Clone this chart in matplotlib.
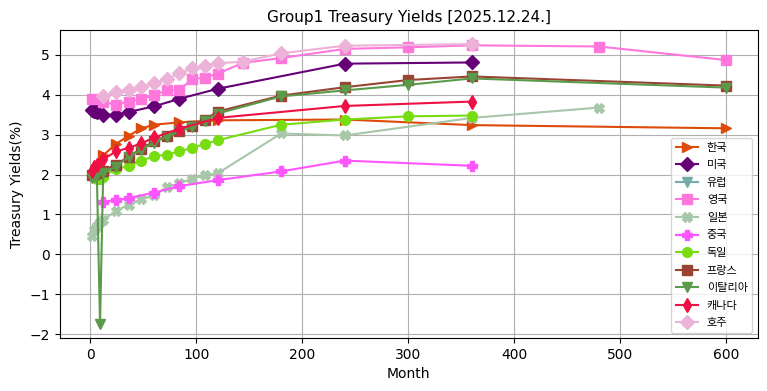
import matplotlib
matplotlib.use("agg")
import matplotlib.pyplot as plt

plt.rcParams['font.family'] = ['DejaVu Sans', 'Noto Sans CJK KR']

# maturities in months and yields (%) per country
KR_M = [12, 24, 36, 48, 60, 84, 120, 240, 360, 600]
KR_Y = [2.48, 2.77, 2.97, 3.16, 3.25, 3.31, 3.36, 3.38, 3.24, 3.16]

US_M = [1, 2, 3, 4, 6, 12, 24, 36, 60, 84, 120, 240, 360]
US_Y = [3.63, 3.62, 3.6, 3.6, 3.57, 3.5, 3.5, 3.57, 3.71, 3.9, 4.15, 4.78, 4.81]

EU_M = []
EU_Y = []

UK_M = [1, 12, 24, 36, 48, 60, 72, 84, 96, 108, 120, 144, 180, 240, 300, 360, 480, 600]
UK_Y = [3.89, 3.82, 3.75, 3.83, 3.89, 3.99, 4.11, 4.13, 4.39, 4.43, 4.53, 4.8, 4.92, 5.15, 5.19, 5.24, 5.21, 4.87]

JP_M = [1, 3, 6, 9, 12, 24, 36, 48, 60, 72, 84, 96, 108, 120, 180, 240, 360, 480]
JP_Y = [0.47, 0.62, 0.71, 0.8, 0.87, 1.08, 1.25, 1.38, 1.48, 1.68, 1.78, 1.9, 1.98, 2.03, 3.03, 2.98, 3.42, 3.68]

CN_M = [12, 24, 36, 60, 84, 120, 180, 240, 360]
CN_Y = [1.32, 1.36, 1.41, 1.55, 1.71, 1.86, 2.08, 2.35, 2.22]

DE_M = [3, 6, 9, 12, 24, 36, 48, 60, 72, 84, 96, 108, 120, 180, 240, 300, 360]
DE_Y = [1.95, 1.9, 1.88, 1.95, 2.14, 2.21, 2.35, 2.46, 2.5, 2.58, 2.67, 2.77, 2.86, 3.25, 3.38, 3.46, 3.48]

FR_M = [1, 3, 6, 12, 24, 36, 48, 60, 72, 84, 96, 108, 120, 180, 240, 300, 360, 600]
FR_Y = [2.0, 2.02, 2.05, 2.1, 2.25, 2.45, 2.65, 2.83, 2.97, 3.1, 3.22, 3.38, 3.58, 3.98, 4.19, 4.37, 4.46, 4.23]

IT_M = [1, 3, 6, 9, 12, 24, 36, 48, 60, 72, 84, 96, 108, 120, 180, 240, 300, 360, 600]
IT_Y = [1.92, 1.95, 2.0, -1.75, 2.03, 2.2, 2.45, 2.62, 2.8, 2.95, 3.08, 3.2, 3.35, 3.53, 3.96, 4.11, 4.25, 4.41, 4.18]

CA_M = [1, 3, 6, 12, 24, 36, 48, 60, 84, 120, 240, 360]
CA_Y = [2.1, 2.2, 2.25, 2.38, 2.58, 2.67, 2.78, 2.93, 3.15, 3.42, 3.72, 3.83]

AU_M = [12, 24, 36, 48, 60, 72, 84, 96, 108, 120, 144, 180, 240, 360]
AU_Y = [3.96, 4.07, 4.13, 4.19, 4.29, 4.39, 4.54, 4.67, 4.73, 4.79, 4.83, 5.04, 5.23, 5.27]

SERIES = [
    ("한국", KR_M, KR_Y, "#dd4b0b", ">"),
    ("미국", US_M, US_Y, "#660077", "D"),
    ("유럽", EU_M, EU_Y, "#77aaaa", "v"),
    ("영국", UK_M, UK_Y, "#ff77dd", "s"),
    ("일본", JP_M, JP_Y, "#a8c6a8", "X"),
    ("중국", CN_M, CN_Y, "#ff55ff", "P"),
    ("독일", DE_M, DE_Y, "#77dd11", "o"),
    ("프랑스", FR_M, FR_Y, "#994433", "s"),
    ("이탈리아", IT_M, IT_Y, "#5a9a4a", "v"),
    ("캐나다", CA_M, CA_Y, "#ee1144", "d"),
    ("호주", AU_M, AU_Y, "#ecb2d8", "D"),
]

fig, ax = plt.subplots(figsize=(7.67, 3.91), dpi=100)
fig.subplots_adjust(left=0.078, right=0.988, bottom=0.135, top=0.923)

for name, m, y, c, mk in SERIES:
    ax.plot(m, y, label=name, color=c, marker=mk, markersize=7, linewidth=1.5)

ax.grid(True)
ax.set_title("Group1 Treasury Yields [2025.12.24.]", fontsize=11)
ax.set_xlabel("Month")
ax.set_ylabel("Treasury Yields(%)")
ax.legend(loc="lower right", fontsize=8, labelspacing=0.68)

plt.savefig("out.png")
